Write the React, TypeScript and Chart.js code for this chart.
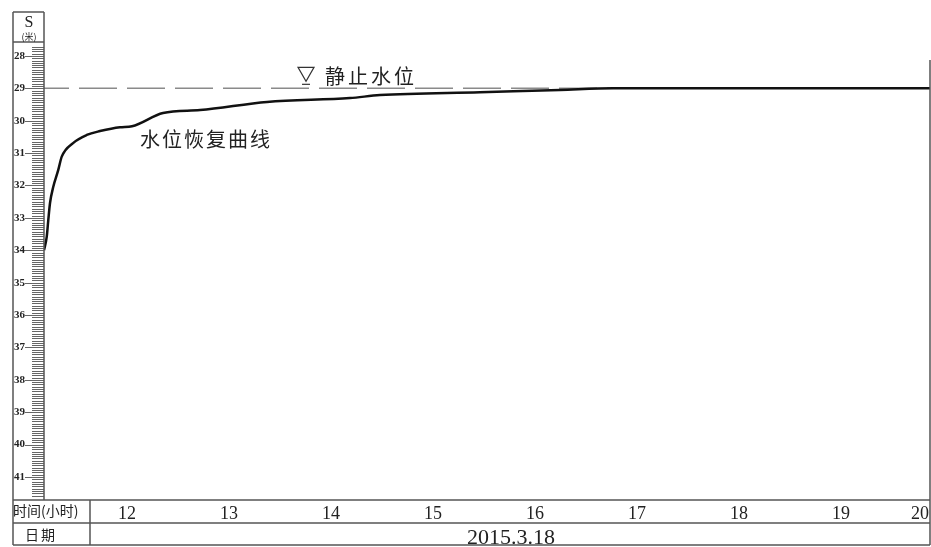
import { useEffect, useRef } from 'react';
import { Chart, registerables } from 'chart.js';

Chart.register(...registerables);

// recovery curve: time (hours) vs depth to water S (m)
const hours = [11.186, 11.213, 11.228, 11.245, 11.277, 11.326, 11.36, 11.471, 11.605, 11.735, 11.931, 12.049, 12.353, 12.716, 13.373, 14.186, 14.48, 15.461, 16.245, 16.765, 19.873];
const depth = [34.0, 33.58, 33.07, 32.54, 32.04, 31.52, 31.11, 30.69, 30.44, 30.32, 30.2, 30.17, 29.76, 29.67, 29.42, 29.3, 29.21, 29.12, 29.05, 29.0, 29.0];

const staticLevel = 29.0;
const hourTickLabels = ['12', '13', '14', '15', '16', '17', '18', '19', '20'];
const dateLabel = '2015.3.18';
const curveLabel = '水位恢复曲线';
const staticLabel = '静止水位';
const yTitle = 'S';
const yUnit = '(米)';
const xRowTitle = '时间(小时)';
const dateRowTitle = '日期';

const xMin = 11.186;
const xMax = 19.873;
const yMin = 27.57;
const yMax = 41.71;

const curveLabelPos = { x: 12.127, y: 30.81 };
const staticMarkPos = { x: 13.755, y: staticLevel };
const staticLabelPos = { x: 13.94, y: 28.87 };

const CJK = '"Noto Sans CJK SC", "Noto Sans", sans-serif';
const SERIF = '"Liberation Serif", "DejaVu Serif", serif';

const framePlugin = {
  id: 'frame',
  afterDraw(chart: any) {
    const ctx = chart.ctx as CanvasRenderingContext2D;
    const xs = chart.scales.x;
    const ys = chart.scales.y;
    const area = chart.chartArea;
    const L = 13;
    const R = area.right;
    const T = 12;
    const B = 545;
    const rowMid = 523;
    ctx.save();
    // ruler
    ctx.strokeStyle = '#666';
    ctx.lineWidth = 1;
    const per = 14;
    for (let k = Math.ceil(yMin * per); k <= Math.floor(yMax * per); k++) {
      const v = k / per;
      const py = Math.round(ys.getPixelForValue(v)) + 0.5;
      if (py < 47 || py > area.bottom - 2) continue;
      const major = k % per === 0;
      ctx.beginPath();
      ctx.moveTo(major ? 25 : 32, py);
      ctx.lineTo(area.left, py);
      ctx.stroke();
    }
    // frame lines
    ctx.strokeStyle = '#555';
    ctx.lineWidth = 1.5;
    ctx.beginPath();
    ctx.moveTo(L, T); ctx.lineTo(L, B);
    ctx.moveTo(L, T); ctx.lineTo(area.left, T);
    ctx.moveTo(area.left, T); ctx.lineTo(area.left, area.bottom);
    ctx.moveTo(L, 42); ctx.lineTo(area.left, 42);
    ctx.moveTo(R, 60); ctx.lineTo(R, B);
    ctx.moveTo(L, area.bottom); ctx.lineTo(R, area.bottom);
    ctx.moveTo(L, rowMid); ctx.lineTo(R, rowMid);
    ctx.moveTo(L, B); ctx.lineTo(R, B);
    ctx.moveTo(90, area.bottom); ctx.lineTo(90, B);
    ctx.stroke();
    // header
    ctx.fillStyle = '#222';
    ctx.textAlign = 'center';
    ctx.textBaseline = 'alphabetic';
    ctx.font = `16px ${SERIF}`;
    ctx.fillText(yTitle, 29, 27);
    ctx.font = `9px ${CJK}`;
    ctx.fillText(yUnit, 29, 40);
    // table texts
    ctx.font = `14px ${CJK}`;
    ctx.textAlign = 'left';
    (ctx as any).letterSpacing = '0px';
    ctx.fillText(xRowTitle, 13, 516);
    (ctx as any).letterSpacing = '2px';
    ctx.fillText(dateRowTitle, 25, 540);
    (ctx as any).letterSpacing = '0px';
    ctx.font = `22px ${SERIF}`;
    ctx.textAlign = 'center';
    ctx.fillText(dateLabel, (90 + R) / 2 + 1, 544);
    ctx.font = `18px ${SERIF}`;
    ctx.textAlign = 'right';
    ctx.fillText(hourTickLabels[hourTickLabels.length - 1], R - 1, 519);
    // static level mark
    const mx = xs.getPixelForValue(staticMarkPos.x);
    const my = ys.getPixelForValue(staticMarkPos.y);
    ctx.strokeStyle = '#333';
    ctx.lineWidth = 1.2;
    ctx.beginPath();
    ctx.moveTo(mx - 8, my - 21);
    ctx.lineTo(mx + 8, my - 21);
    ctx.lineTo(mx, my - 7);
    ctx.closePath();
    ctx.stroke();
    ctx.beginPath();
    ctx.moveTo(mx - 4, my - 4);
    ctx.lineTo(mx + 4, my - 4);
    ctx.stroke();
    // labels
    ctx.fillStyle = '#222';
    ctx.textAlign = 'left';
    ctx.font = `20px ${CJK}`;
    (ctx as any).letterSpacing = '3px';
    ctx.fillText(staticLabel, xs.getPixelForValue(staticLabelPos.x), ys.getPixelForValue(staticLabelPos.y));
    (ctx as any).letterSpacing = '2px';
    ctx.fillText(curveLabel, xs.getPixelForValue(curveLabelPos.x), ys.getPixelForValue(curveLabelPos.y));
    (ctx as any).letterSpacing = '0px';
    ctx.restore();
  },
};

export default function App() {
  const ref = useRef<HTMLCanvasElement | null>(null);
  useEffect(() => {
    document.body.style.margin = '0';
    const canvas = ref.current;
    if (!canvas) return;
    const chart = new Chart(canvas, {
      type: 'line',
      data: {
        datasets: [
          {
            label: curveLabel,
            data: hours.map((h, i) => ({ x: h, y: depth[i] })),
            borderColor: '#111',
            borderWidth: 2.5,
            pointRadius: 0,
            cubicInterpolationMode: 'monotone',
            fill: false,
          },
          {
            label: staticLabel,
            data: [
              { x: xMin, y: staticLevel },
              { x: xMax, y: staticLevel },
            ],
            borderColor: '#8a8a8a',
            borderWidth: 1.5,
            borderDash: [38, 10],
            borderDashOffset: -35,
            pointRadius: 0,
            fill: false,
          },
        ],
      },
      options: {
        animation: false,
        responsive: false,
        devicePixelRatio: 1,
        layout: { padding: { left: 13, top: 42, right: 1, bottom: 2 } },
        plugins: { legend: { display: false }, tooltip: { enabled: false } },
        scales: {
          x: {
            type: 'linear',
            min: xMin,
            max: xMax,
            position: 'bottom',
            grid: { display: false, drawTicks: false },
            border: { display: false },
            ticks: {
              stepSize: 1,
              includeBounds: false,
              autoSkip: false,
              maxRotation: 0,
              color: '#222',
              font: { family: SERIF, size: 18 },
              padding: 3,
              callback: (v: any) => String(v),
            },
            afterFit: (s: any) => {
              s.height = 45;
            },
          },
          y: {
            type: 'linear',
            reverse: true,
            min: yMin,
            max: yMax,
            position: 'left',
            grid: { display: false, drawTicks: false },
            border: { display: false },
            ticks: {
              stepSize: 1,
              includeBounds: false,
              autoSkip: false,
              color: '#222',
              font: { family: SERIF, size: 11, weight: 'bold' },
              padding: 19,
            },
            afterFit: (s: any) => {
              s.width = 31;
            },
          },
        },
      },
      plugins: [framePlugin],
    } as any);
    return () => chart.destroy();
  }, []);
  return (
    <div style={{ position: 'absolute', left: 0, top: 0, width: 931, height: 547, background: '#fff' }}>
      <canvas ref={ref} width={931} height={547} />
    </div>
  );
}
